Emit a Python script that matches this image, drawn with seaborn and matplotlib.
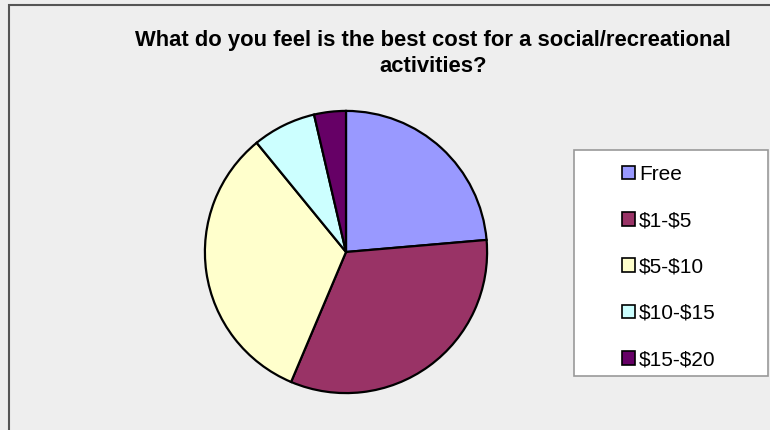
import matplotlib
matplotlib.use("Agg")
import matplotlib.pyplot as plt
from matplotlib.patches import Rectangle, Patch
import seaborn as sns

categories = ["Free", "$1-$5", "$5-$10", "$10-$15", "$15-$20"]
counts = [13, 18, 18, 4, 2]
colors = ["#9999FF", "#993366", "#FFFFCC", "#CCFFFF", "#660066"]
title_lines = ["What do you feel is the best cost for a social/recreational", "activities?"]

sns.set_theme(style="white")
plt.rcParams["font.family"] = ["Liberation Sans", "DejaVu Sans"]
plt.rcParams["text.color"] = "black"
palette = sns.color_palette(colors)

W, H = 770, 430
fig = plt.figure(figsize=(W / 100, H / 100), dpi=100)
fig.patch.set_facecolor("#EEEEEE")

def px(x0, y0, w, h):
    return [x0 / W, 1 - (y0 + h) / H, w / W, h / H]

# outer border
fig.patches.append(Rectangle((8.5 / W, -0.1), 2, 1 - 4.5 / H + 0.1, transform=fig.transFigure,
                             fill=False, edgecolor="#555555", linewidth=1.5))

cx, cy, r = 346, 252, 142.5
ax = fig.add_axes(px(cx - r, cy - r, 2 * r, 2 * r))
ax.pie(counts, colors=palette, startangle=90, counterclock=False, radius=1,
       wedgeprops=dict(edgecolor="black", linewidth=1.6))
ax.set_xlim(-1.01, 1.01)
ax.set_ylim(-1.01, 1.01)
ax.set_aspect("auto")
ax.axis("off")

for line, base in zip(title_lines, [46, 71.7]):
    fig.text(433 / W, 1 - base / H, line, ha="center", va="baseline", fontsize=15.8,
             fontweight="bold", color="black")

# legend box
fig.patches.append(Rectangle((573.5 / W, 1 - 376 / H), 194.5 / W, 226 / H, transform=fig.transFigure,
                             facecolor="white", edgecolor="#999999", linewidth=1.2))
labels = [c.replace("$", r"\$") for c in categories]
handles = [Patch(facecolor=c, edgecolor="black", linewidth=1.2) for c in palette]
leg = fig.legend(handles, labels, loc="upper left",
                 bbox_to_anchor=(622 / W, 1 - 165 / H), frameon=False,
                 fontsize=15, handlelength=0.625, handleheight=0.625,
                 handletextpad=0.2, labelspacing=1.31, borderpad=0, borderaxespad=0)
for t in leg.get_texts():
    t.set_color("black")

fig.savefig("out.png", dpi=100, facecolor=fig.get_facecolor())
